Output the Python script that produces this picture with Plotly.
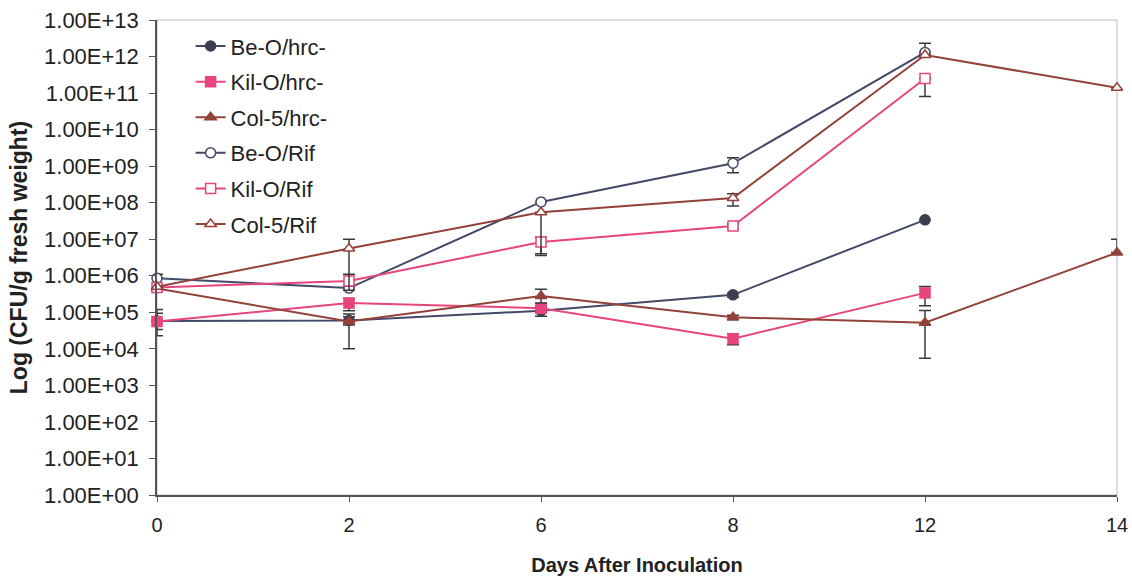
import plotly.graph_objects as go

days = ["0", "2", "6", "8", "12", "14"]
y_exponents = list(range(0, 14))

series_names = ["Be-O/hrc-", "Kil-O/hrc-", "Col-5/hrc-", "Be-O/Rif", "Kil-O/Rif", "Col-5/Rif"]

be_hrc = [5.8e4, 6.0e4, 1.1e5, 3.0e5, 3.4e7, None]
kil_hrc = [5.6e4, 1.8e5, 1.3e5, 1.9e4, 3.4e5, None]
col_hrc = [4.5e5, 5.6e4, 2.8e5, 7.3e4, 5.2e4, 4.3e6]
be_rif = [8.5e5, 4.6e5, 1.05e8, 1.2e9, 1.3e12, None]
kil_rif = [4.8e5, 7.2e5, 8.4e6, 2.3e7, 2.5e11, None]
col_rif = [5.0e5, 5.6e6, 5.5e7, 1.35e8, 1.1e12, 1.4e11]

# error bars (upper / lower deltas)
be_hrc_up = [3.6e4, 1.5e4, 2.0e4, 4.0e4, 0, None]
be_hrc_dn = [2.4e4, 1.5e4, 3.2e4, 4.0e4, 0, None]
kil_hrc_up = [6.4e4, 6.0e4, 2.0e4, 7.0e3, 1.7e5, None]
kil_hrc_dn = [3.3e4, 7.0e4, 3.0e4, 6.0e3, 1.9e5, None]
col_hrc_up = [0, 3.4e4, 1.5e5, 1.0e4, 6.0e4, 5.7e6]
col_hrc_dn = [0, 4.6e4, 1.0e5, 1.0e4, 4.65e4, 0]
be_rif_up = [2.5e5, 0, 0, 5.0e8, 1.0e12, None]
be_rif_dn = [0, 0, 0, 5.4e8, 0, None]
kil_rif_up = [0, 3.8e5, 3.0e6, 3.0e6, 0, None]
kil_rif_dn = [0, 2.0e5, 4.8e6, 3.0e6, 1.7e11, None]
col_rif_up = [0, 4.4e6, 0, 4.0e7, 0, 0]
col_rif_dn = [0, 5.2e6, 5.1e7, 5.4e7, 0, 0]

BLUE = "#434a68"
PINK = "#e8457e"
BROWN = "#93423a"
ERR = "#3a3a3a"

x_idx = list(range(len(days)))

specs = [
    (series_names[0], be_hrc, be_hrc_up, be_hrc_dn, BLUE, "circle", "#3d3f50", True),
    (series_names[1], kil_hrc, kil_hrc_up, kil_hrc_dn, PINK, "square", PINK, True),
    (series_names[2], col_hrc, col_hrc_up, col_hrc_dn, BROWN, "triangle-up", BROWN, True),
    (series_names[3], be_rif, be_rif_up, be_rif_dn, BLUE, "circle", BLUE, False),
    (series_names[4], kil_rif, kil_rif_up, kil_rif_dn, PINK, "square", PINK, False),
    (series_names[5], col_rif, col_rif_up, col_rif_dn, BROWN, "triangle-up", BROWN, False),
]

fig = go.Figure()
for name, vals, up, dn, col, sym, mcol, filled in specs:
    fig.add_trace(go.Scatter(
        x=x_idx, y=vals, name=name, mode="lines+markers",
        legendgroup=name,
        line=dict(color=col, width=2),
        marker=dict(symbol=sym, size=10, color=mcol if filled else "white",
                    line=dict(color=mcol, width=1.5)),
        error_y=dict(type="data", symmetric=False, array=up, arrayminus=dn,
                     color=ERR, thickness=1.5, width=6),
        cliponaxis=False,
    ))

fig.update_layout(
    width=1132, height=576,
    margin=dict(l=157, r=15, t=20, b=81, autoexpand=False),
    paper_bgcolor="white", plot_bgcolor="white",
    font=dict(family="Liberation Sans, Arial, sans-serif", size=19, color="#222"),
    showlegend=True,
    legend=dict(x=0.035, y=0.989, xanchor="left", yanchor="top",
                bgcolor="rgba(0,0,0,0)", tracegroupgap=4,
                font=dict(size=22, color="#222")),
    xaxis=dict(
        range=[0, 5], tickmode="array", tickvals=x_idx, ticktext=days,
        showgrid=False, zeroline=False, showline=True, linecolor="#555", linewidth=1.5,
        ticks="outside", ticklen=5, tickcolor="#555", automargin=False,
        ticklabelstandoff=6,
        title=dict(text="<b>Days After Inoculation</b>", font=dict(size=20), standoff=27),
        tickfont=dict(size=20),
    ),
    yaxis=dict(
        type="log", range=[0, 13], tickmode="array",
        tickvals=[10 ** e for e in y_exponents],
        ticktext=["1.00E+%02d" % e for e in y_exponents],
        showgrid=False, zeroline=False, showline=True, linecolor="#555", linewidth=1.5,
        ticks="outside", ticklen=6, tickcolor="#555", automargin=False,
        ticklabelstandoff=6,
        title=dict(text="<b>Log (CFU/g fresh weight)</b>", font=dict(size=23), standoff=10),
        tickfont=dict(size=22),
    ),
    shapes=[dict(type="rect", xref="paper", yref="paper", x0=0, y0=0, x1=1, y1=1,
                 line=dict(color="#bbbbbb", width=1), layer="below")],
)

fig.write_html("out.html")
